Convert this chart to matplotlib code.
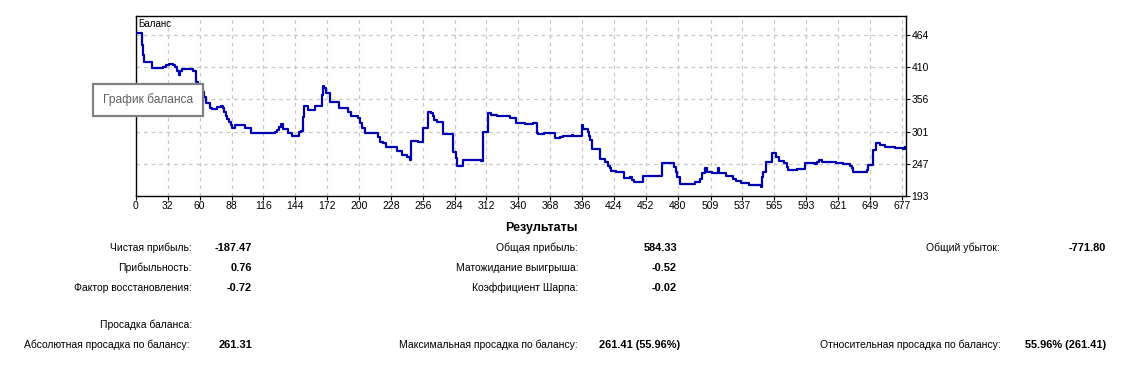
import matplotlib.pyplot as plt

plt.rcParams['font.family'] = ['Liberation Sans', 'DejaVu Sans']

# balance curve: trade number where a new level starts, and balance
trade = [0, 9.3, 10.4, 11.3, 18.3, 27.7, 30.4, 33.3, 36.5, 38.3, 40.1, 42.1, 43.1, 44.2,
         54.4, 56.5, 57.2, 58.5, 60.3, 62.6, 63.8, 65.5, 69.1, 71.1, 75.5, 78.5, 80.2,
         81.4, 82.9, 84.4, 86.0, 87.5, 88.7, 91.0, 99.8, 104.8, 126.2, 127.9, 129.7,
         131.5, 133.2, 137.9, 141.4, 147.5, 149.0, 151.1, 151.7, 154.9, 161.3, 167.8,
         168.6, 169.7, 171.0, 174.5, 182.4, 190.1, 193.0, 198.9, 200.9, 202.4, 205.3,
         209.7, 217.0, 218.5, 221.4, 223.5, 233.4, 238.1, 241.9, 244.8, 245.7, 251.6,
         256.5, 260.4, 263.3, 265.0, 266.2, 268.6, 274.1, 282.6, 285.5, 286.1, 291.7,
         307.2, 308.7, 313.7, 315.8, 321.0, 332.7, 337.7, 345.9, 352.9, 356.2, 357.3,
         362.9, 372.3, 376.7, 379.0, 387.2, 388.1, 395.7, 397.2, 401.0, 402.2, 403.0,
         404.5, 411.8, 416.2, 418.6, 420.6, 421.5, 425.9, 432.9, 438.2, 440.2, 442.0,
         449.9, 466.6, 477.1, 478.6, 479.5, 482.1, 495.3, 499.7, 501.5, 504.1, 505.6,
         510.0, 515.8, 516.7, 522.6, 528.7, 531.4, 535.7, 543.0, 553.3, 554.5, 555.5,
         557.7, 563.0, 566.5, 569.4, 573.5, 575.9, 577.3, 584.7, 592.0, 600.8, 602.5,
         604.6, 606.7, 619.2, 625.7, 631.5, 633.0, 634.5, 646.8, 647.6, 652.0, 654.7,
         657.9, 662.3, 666.7, 671.1, 677.9, 680.3]
balance = [466.9, 447.2, 430.3, 419.0, 408.9, 410.5, 412.6, 415.1, 412.6, 410.1, 403.3,
           396.6, 403.3, 406.7, 403.8, 394.9, 384.8, 379.7, 373.0, 368.4, 360.0, 348.8,
           341.4, 339.2, 342.6, 344.8, 340.9, 334.2, 327.9, 322.4, 317.8, 312.2, 306.7,
           312.2, 306.7, 298.2, 300.4, 303.8, 308.9, 313.4, 305.5, 298.2, 294.2, 299.9,
           302.1, 326.2, 344.3, 337.5, 344.3, 362.8, 378.0, 374.1, 365.7, 351.5, 340.4,
           334.7, 327.9, 323.5, 315.1, 306.7, 299.3, 298.2, 292.5, 284.1, 281.4, 275.6,
           268.9, 261.6, 258.8, 253.2, 285.3, 284.1, 306.7, 334.7, 332.0, 327.4, 320.7,
           317.8, 297.1, 267.2, 256.1, 243.6, 253.2, 251.5, 300.9, 332.0, 329.1, 327.9,
           323.5, 316.1, 313.9, 316.1, 298.2, 296.5, 298.2, 289.8, 291.5, 294.2, 295.4,
           293.7, 312.2, 305.0, 300.9, 293.7, 286.9, 271.8, 254.4, 250.3, 243.1, 239.2,
           234.7, 233.5, 222.4, 225.0, 219.5, 216.6, 226.7, 247.6, 241.9, 233.5, 225.0,
           212.2, 216.6, 220.7, 230.8, 240.2, 233.5, 231.8, 239.2, 230.8, 226.2, 220.7,
           218.3, 214.9, 211.0, 208.2, 225.0, 233.5, 250.3, 265.5, 258.8, 251.5, 247.6,
           241.9, 236.3, 238.0, 248.7, 246.0, 249.8, 253.2, 250.3, 248.7, 246.0, 243.1,
           239.2, 233.5, 236.3, 244.8, 270.1, 281.4, 278.5, 274.6, 275.6, 274.0, 271.3,
           274.6]

x_ticks = [0, 32, 60, 88, 116, 144, 172, 200, 228, 256, 284, 312, 340, 368, 396, 424,
           452, 480, 509, 537, 565, 593, 621, 649, 677]
y_ticks = [193, 247, 301, 356, 410, 464]

# results table
left_rows = [("Чистая прибыль:", "-187.47"), ("Прибыльность:", "0.76"),
             ("Фактор восстановления:", "-0.72")]
mid_rows = [("Общая прибыль:", "584.33"), ("Матожидание выигрыша:", "-0.52"),
            ("Коэффициент Шарпа:", "-0.02")]
right_rows = [("Общий убыток:", "-771.80")]
dd_rows = [("Абсолютная просадка по балансу:", "261.31"),
           ("Максимальная просадка по балансу:", "261.41 (55.96%)"),
           ("Относительная просадка по балансу:", "55.96% (261.41)")]

W, H = 1136, 366
fig = plt.figure(figsize=(W / 100, H / 100), dpi=100)
ax = fig.add_axes([135.5 / W, 1 - 195.7 / H, 770.5 / W, 179.7 / H])

ax.plot(trade, balance, drawstyle='steps-post', color='#0000b0', lw=1.6, zorder=3)

x_lo, x_hi = 3.6, 680.8
ax.set_xlim(x_lo, x_hi)
ax.set_ylim(193, 496)
ax.set_xticks([max(v, x_lo) for v in x_ticks])
ax.set_xticklabels([str(v) for v in x_ticks])
ax.set_yticks(y_ticks)
ax.set_yticklabels([str(v) for v in y_ticks])
ax.yaxis.tick_right()
ax.tick_params(axis='both', labelsize=7.5, length=3, width=0.8, pad=1, colors='black')
ax.grid(True, color='#c8c8c8', linestyle=(0, (3, 3)), lw=0.9)
for s in ax.spines.values():
    s.set_linewidth(1)

ax.text(0.004, 0.985, "Баланс", transform=ax.transAxes, fontsize=7, va='top', ha='left')

# tooltip box
fig.text(103 / W, 1 - 100 / H, "График баланса", fontsize=8.6, color='#606060', va='center',
         ha='left', bbox=dict(boxstyle='square,pad=0.8', fc='white', ec='#808080', lw=1.6),
         zorder=10)

fs = 7.45
fig.text(541 / W, 1 - 228 / H, "Результаты", fontsize=9, fontweight='bold', ha='center',
         va='center')

row_y = [248, 268, 288]
for (lab, val), y in zip(left_rows, row_y):
    fig.text(192 / W, 1 - y / H, lab, fontsize=fs, ha='right', va='center')
    fig.text(252 / W, 1 - y / H, val, fontsize=7.9, ha='right', va='center', fontweight='bold')
for (lab, val), y in zip(mid_rows, row_y):
    fig.text(578 / W, 1 - y / H, lab, fontsize=fs, ha='right', va='center')
    fig.text(677 / W, 1 - y / H, val, fontsize=7.9, ha='right', va='center', fontweight='bold')
for (lab, val), y in zip(right_rows, row_y):
    fig.text(1000 / W, 1 - y / H, lab, fontsize=fs, ha='right', va='center')
    fig.text(1106 / W, 1 - y / H, val, fontsize=7.9, ha='right', va='center', fontweight='bold')

fig.text(192 / W, 1 - 325 / H, "Просадка баланса:", fontsize=fs, ha='right', va='center')
for (lab, val), lx, vx in zip(dd_rows, [190, 578, 1001], [252, 680, 1106]):
    fig.text(lx / W, 1 - 345 / H, lab, fontsize=fs, ha='right', va='center')
    fig.text(vx / W, 1 - 345 / H, val, fontsize=7.9, ha='right', va='center', fontweight='bold')

fig.savefig("out.png", dpi=100, facecolor='white')
